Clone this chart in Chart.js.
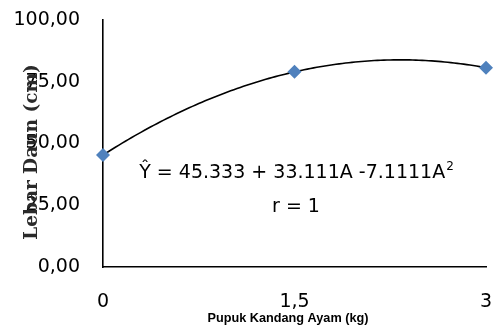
<!DOCTYPE html>
<html><head><meta charset="utf-8">
<script src="https://cdn.jsdelivr.net/npm/chart.js@4"></script>
<style>html,body{margin:0;padding:0;background:#fff}#wrap{width:494px;height:328px}</style>
</head><body><div id="wrap"><canvas id="c" width="494" height="328"></canvas></div>
<script>
const doses = [0, 1.5, 3];
const leafWidth = [45.33, 79.0, 80.67];
const xTicks = [0, 1.5, 3];
const yTicks = [0, 25, 50, 75, 100];
const trendCoef = [45.333, 33.111, -7.1111];
const equationText = 'Ŷ = 45.333 + 33.111A -7.1111A';
const rText = 'r = 1';
const xTitle = 'Pupuk Kandang Ayam (kg)';
const yTitle = 'Lebar Daun (cm)';

const fmt = v => String(v).replace('.', ',');
const zeroPad = s => { s.paddingLeft = 0; s.paddingRight = 0; s.paddingTop = 0; s.paddingBottom = 0; };

const overlay = {
  id: 'overlay',
  beforeDatasetsDraw(chart) {
    const {ctx, scales: {x, y}} = chart;
    ctx.save();
    ctx.strokeStyle = '#000';
    ctx.lineWidth = 1.6;
    ctx.beginPath();
    const n = 120;
    for (let i = 0; i <= n; i++) {
      const a = doses[0] + (doses[doses.length - 1] - doses[0]) * i / n;
      const v = trendCoef[0] + trendCoef[1] * a + trendCoef[2] * a * a;
      const px = x.getPixelForValue(a), py = y.getPixelForValue(v);
      if (i === 0) ctx.moveTo(px, py); else ctx.lineTo(px, py);
    }
    ctx.stroke();
    ctx.restore();
  },
  afterDraw(chart) {
    const {ctx} = chart;
    ctx.save();
    ctx.fillStyle = '#000';
    const big = '19px "DejaVu Sans"', small = '12px "DejaVu Sans"';
    ctx.font = big;
    ctx.textBaseline = 'alphabetic';
    const w = ctx.measureText(equationText).width;
    ctx.font = small;
    const w2 = ctx.measureText('2').width;
    const cx = 296;
    const sx = cx - (w + w2) / 2;
    ctx.font = big;
    ctx.textAlign = 'left';
    ctx.fillText(equationText, sx, 178);
    ctx.font = small;
    ctx.fillText('2', sx + w + 1, 170);
    ctx.font = big;
    ctx.textAlign = 'center';
    ctx.fillText(rText, cx, 212);
    // x title
    ctx.font = 'bold 12.7px "Liberation Sans Narrow", "Liberation Sans"';
    ctx.textAlign = 'center';
    ctx.textBaseline = 'middle';
    ctx.fillText(xTitle, 288, 318);
    // y title
    ctx.translate(32, 152);
    ctx.rotate(-Math.PI / 2);
    ctx.font = 'bold 18.5px "DejaVu Serif"';
    ctx.fillStyle = '#2a2a2a';
    ctx.fillText(yTitle, 0, 0);
    ctx.restore();
  }
};

new Chart(document.getElementById('c'), {
  type: 'scatter',
  data: {
    datasets: [{
      data: doses.map((d, i) => ({x: d, y: leafWidth[i]})),
      pointStyle: 'rectRot',
      pointRadius: 7,
      pointHoverRadius: 7,
      backgroundColor: '#4F81BD',
      borderColor: '#4F81BD',
      borderWidth: 0,
      clip: false
    }]
  },
  options: {
    responsive: false,
    animation: false,
    events: [],
    layout: {padding: {left: 0, top: 20, right: 8, bottom: 0}},
    plugins: {legend: {display: false}, tooltip: {enabled: false}},
    scales: {
      x: {
        type: 'linear', min: 0, max: 3,
        afterBuildTicks: s => { s.ticks = xTicks.map(v => ({value: v})); },
        afterFit: s => { s.height = 61; zeroPad(s); },
        grid: {display: false},
        border: {display: true, color: '#000', width: 1.6},
        ticks: {color: '#000', font: {family: 'DejaVu Sans', size: 19}, padding: 16, maxRotation: 0,
                callback: v => fmt(v)}
      },
      y: {
        min: 0, max: 100,
        afterBuildTicks: s => { s.ticks = yTicks.map(v => ({value: v})); },
        afterFit: s => { s.width = 103; zeroPad(s); },
        grid: {display: false},
        border: {display: true, color: '#000', width: 1.6},
        ticks: {color: '#000', font: {family: 'DejaVu Sans', size: 19}, padding: 15,
                callback: v => v.toFixed(2).replace('.', ',')}
      }
    }
  },
  plugins: [overlay]
});
</script></body></html>
